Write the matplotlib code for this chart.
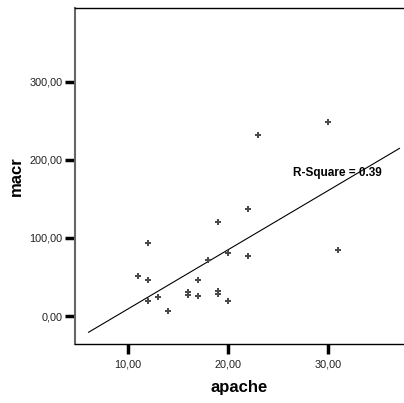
import numpy as np
import matplotlib
matplotlib.use('Agg')
import matplotlib.pyplot as plt

apache = [11, 12, 12, 12, 13, 14, 16, 16, 17, 17, 18, 19, 19, 19, 20, 20, 22, 22, 23, 30, 31]
macr = [51, 93, 46, 19, 24, 7, 31, 27, 46, 26, 72, 120, 32, 28, 81, 19, 137, 77, 232, 248, 84]
xticks = [10, 20, 30]
yticks = [0, 100, 200, 300]
r2_label = 'R-Square = 0.39'

plt.rcParams['font.family'] = ['Liberation Sans', 'DejaVu Sans']

fig = plt.figure(figsize=(4.04, 4.03), dpi=100)
ax = fig.add_axes([75 / 404, 59 / 403, 329 / 404, 336 / 403])

# linear fit line, drawn over the same range as the original
coef = np.polyfit(apache, macr, 1)
xl = np.array([6.1, 37.1])
ax.plot(xl, np.polyval(coef, xl), color='black', lw=0.8)

ax.scatter(apache, macr, marker='P', s=20, color='#4a4a4a', linewidths=0, zorder=3)

ax.text(26.5, 183, r2_label, fontsize=8.5, fontweight='bold', ha='left', va='center')

ax.set_xlim(4.75, 37.55)
ax.set_ylim(-35.8, 394.5)
ax.set_xticks(xticks)
ax.set_xticklabels(['%d,00' % v for v in xticks])
ax.set_yticks(yticks)
ax.set_yticklabels(['%d,00' % v for v in yticks])
ax.tick_params(axis='both', length=7, width=2.5, labelsize=7.8, colors='black',
               labelcolor='#222222')
ax.tick_params(axis='x', pad=4)
ax.tick_params(axis='y', pad=2)

ax.spines['right'].set_visible(False)
for s in ['top', 'bottom']:
    ax.spines[s].set_linewidth(1.0)
ax.spines['left'].set_linewidth(1.5)
ax.spines['left'].set_color('#666666')

ax.set_xlabel('apache', fontsize=12, fontweight='bold', labelpad=8)
ax.set_ylabel('macr', fontsize=12, fontweight='bold', labelpad=4)

plt.savefig('out.png', dpi=100)
